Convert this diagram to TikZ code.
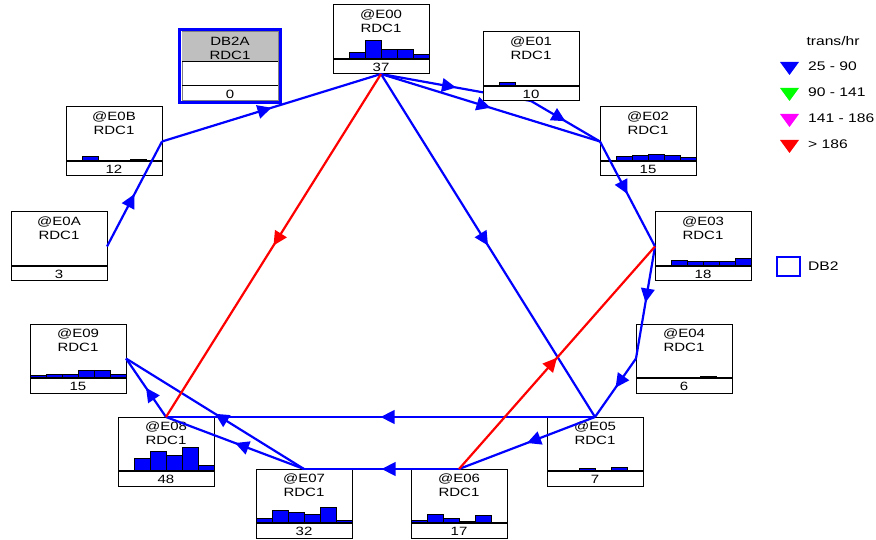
\documentclass[tikz,border=0pt]{standalone}
\usepackage{fontspec}
\setmainfont{Liberation Sans}
\newfontfamily\diafont[FakeStretch=1.25]{Liberation Sans}
\usetikzlibrary{arrows.meta,decorations.markings}
\definecolor{legmagenta}{RGB}{255,0,255}
\definecolor{leggreen}{RGB}{0,255,0}
\pgfdeclarelayer{background}
\pgfsetlayers{background,main}
\tikzset{
  stbox/.style={draw=black, fill=white, line width=1pt, minimum width=96pt, minimum height=69pt, inner sep=0pt, outer sep=0pt, anchor=north west},
  sttext/.style={font=\diafont\fontsize{12}{14}\selectfont, inner sep=0pt, text height=8.6pt, text depth=0pt},
  legtext/.style={font=\diafont\fontsize{12.5}{14}\selectfont, inner sep=0pt, text height=9pt, text depth=0pt, anchor=west},
  bar/.style={draw=black, fill=blue, line width=0.9pt},
  flow/.style={color=#1, line width=2.2pt, postaction={decorate}, decoration={markings, mark=at position 0.5 with {\arrow{Triangle[length=14pt,width=13.5pt]}}}},
}
\begin{document}
\begin{tikzpicture}[x=1pt,y=-1pt]
\useasboundingbox (0,0) rectangle (876,540);
\def\station#1#2#3#4{
  \node[stbox] (#1) at (#2) {};
  \node[sttext] (#1-id) at ([yshift=-9.5pt]#1.north) {@#1};
  \node[sttext] (#1-rdc) at ([yshift=-23pt]#1.north) {RDC1};
  \foreach \h [count=\i] in {#4} {
    \ifdim\h pt>0pt
      \draw[bar] ([xshift=\i*16pt-16pt, yshift=15pt]#1.south west) rectangle ++(16pt,\h pt);
    \fi
  }
  \draw[line width=1.4pt] ([yshift=15pt]#1.south west) -- ([yshift=15pt]#1.south east);
  \node[sttext] (#1-n) at ([yshift=7pt]#1.south) {#3};
}
\station{E00}{333,5}{37}{0,7,18.7,9.3,9.3,4.3}
\station{E01}{483,32}{10}{0.7,4,0.7,0.7,0,0}
\station{E02}{600,107}{15}{0.7,5,5.7,6.7,5.7,3.3}
\station{E03}{655,212}{18}{0.7,5.7,4.3,5,5,8}
\station{E04}{636,324}{6}{0.5,0.5,0.5,0.7,2,0}
\station{E05}{547,417}{7}{0,0.5,2.3,0.5,4,0}
\station{E06}{411,469}{17}{2.7,8.3,5,1.7,7.7,1}
\station{E07}{256,469}{32}{4.3,12.3,11,8.3,15.7,2.3}
\station{E08}{118,417}{48}{0,12.7,19.7,16,24,5.3}
\station{E09}{30,324}{15}{2.7,4,4,7.7,7.7,3.3}
\station{E0A}{11,212}{3}{0.4,0,0,0.8,0.4,0}
\station{E0B}{66,107}{12}{0,5,0.4,0,1.7,0}

\node[stbox, draw=gray] (DB2A) at (182,32) {};
\fill[gray!50] (DB2A.north west) rectangle ([yshift=-30pt]DB2A.north east);
\draw[line width=1pt] ([yshift=-30pt]DB2A.north west) -- ([yshift=-30pt]DB2A.north east);
\draw[line width=1pt] ([yshift=15pt]DB2A.south west) -- ([yshift=15pt]DB2A.south east);
\draw[blue, line width=2.2pt] ([shift={(-2.5pt,2.5pt)}]DB2A.north west) rectangle ([shift={(2.5pt,-1.5pt)}]DB2A.south east);
\node[sttext] (DB2A-id) at ([yshift=-9.5pt]DB2A.north) {DB2A};
\node[sttext] (DB2A-rdc) at ([yshift=-23pt]DB2A.north) {RDC1};
\node[sttext] (DB2A-n) at ([yshift=7pt]DB2A.south) {0};

\begin{pgfonlayer}{background}
\draw[flow=blue] (E00.south) -- (E01.south);
\draw[flow=blue] (E01.south) -- (E02.west);
\end{pgfonlayer}
\draw[flow=blue] (E0A.east) -- (E0B.east);
\draw[flow=blue] (E0B.east) -- (E00.south);
\draw[flow=blue] (E00.south) -- (E02.west);
\draw[flow=blue] (E02.west) -- (E03.west);
\draw[flow=blue] (E03.west) -- (E04.west);
\draw[flow=blue] (E04.west) -- (E05.north);
\draw[flow=blue] (E00.south) -- (E05.north);
\draw[flow=blue] (E05.north) -- (E08.north);
\draw[flow=blue] (E05.north) -- (E06.north);
\draw[flow=blue] (E06.north) -- (E07.north);
\draw[flow=blue] (E07.north) -- (E08.north);
\draw[flow=blue] (E07.north) -- (E09.east);
\draw[flow=blue] (E08.north) -- (E09.east);
\draw[flow=red] (E00.south) -- (E08.north);
\draw[flow=red] (E06.north) -- (E03.west);

\node[legtext, anchor=center] (unit) at (833,41) {trans/hr};
\foreach \y/\c/\t [count=\k] in {62/blue/25 - 90, 88/leggreen/90 - 141, 114/legmagenta/141 - 186, 140/red/{> 186}} {
  \fill[\c] (780,\y) -- (799,\y) -- (789.5,{\y+13}) -- cycle;
  \node[legtext] (leg\k) at (808,{\y+4.5}) {\t};
}
\draw[blue, line width=2pt] (777,257) rectangle (800,276);
\node[legtext] (legdb) at (808,266) {DB2};
\end{tikzpicture}
\end{document}
